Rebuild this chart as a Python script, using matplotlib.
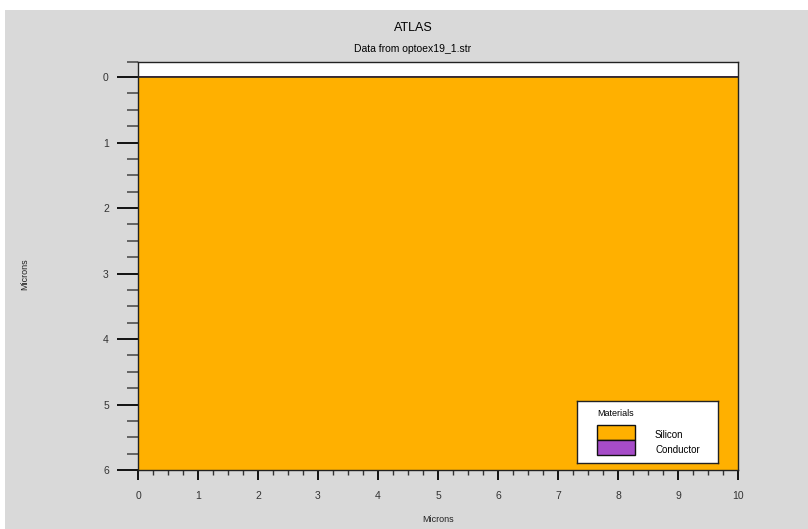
import matplotlib.pyplot as plt
from matplotlib.patches import Rectangle
from matplotlib.ticker import FixedLocator

plt.rcParams['font.family'] = ['Liberation Sans', 'DejaVu Sans']

# structure regions: name, x range, y range (microns)
materials = ['Silicon', 'Conductor']
mat_colors = ['#FFB000', '#A64CC8']
region_x = [(0, 10), (0, 10)]
region_y = [(0, 6), (-0.012, 0)]

x_ticks = [0, 1, 2, 3, 4, 5, 6, 7, 8, 9, 10]
y_ticks = [0, 1, 2, 3, 4, 5, 6]
y_top = -0.23

W, H = 808, 529
fig = plt.figure(figsize=(W / 100, H / 100), dpi=100, facecolor='white')

# grey panel behind everything
fig.patches.append(Rectangle((5 / W, 0), 1 - 5 / W, 1 - 10 / H,
                             transform=fig.transFigure, facecolor='#D9D9D9',
                             edgecolor='none', zorder=-5))

def px_box(x0, y0, x1, y1):
    return [x0 / W, 1 - y1 / H, (x1 - x0) / W, (y1 - y0) / H]

ax = fig.add_axes(px_box(138, 62, 738, 470))
ax.set_facecolor('white')
for name, c, (xa, xb), (ya, yb) in zip(materials, mat_colors, region_x, region_y):
    ax.add_patch(Rectangle((xa, ya), xb - xa, yb - ya, facecolor=c,
                           edgecolor='none', zorder=1))
ax.axhline(0, color='#222222', lw=1.2, zorder=2)

ax.set_xlim(0, 10)
ax.set_ylim(6, y_top)
ax.set_xticks(x_ticks)
ax.set_yticks(y_ticks)
x_minor = [t + f for t in x_ticks[:-1] for f in (0.25, 0.5, 0.75)]
y_minor = [y_top] + [t + f for t in y_ticks[:-1] for f in (0.25, 0.5, 0.75)]
ax.xaxis.set_minor_locator(FixedLocator(x_minor))
ax.yaxis.set_minor_locator(FixedLocator(y_minor))
ax.tick_params(axis='y', which='major', length=15, width=1.4, pad=6,
               labelsize=7.5, colors='#111111', labelcolor='#333333')
ax.tick_params(axis='y', which='minor', length=8, width=1.1, color='#444444')
ax.tick_params(axis='x', which='major', length=7, width=1.4, pad=8,
               labelsize=7.5, colors='#111111', labelcolor='#333333')
ax.tick_params(axis='x', which='minor', length=3.5, width=1.0, color='#333333')
for sp in ax.spines.values():
    sp.set_linewidth(1.0)
    sp.set_color('#222222')

fig.text(413 / W, 1 - 28 / H, 'ATLAS', ha='center', va='center', fontsize=9)
fig.text(413 / W, 1 - 49 / H, 'Data from optoex19_1.str', ha='center',
         va='center', fontsize=7.5)
fig.text(25 / W, 1 - 274 / H, 'Microns', rotation=90, ha='center',
         va='center', fontsize=6.5, color='#222222')
fig.text(438 / W, 1 - 520 / H, 'Microns', ha='center', va='center',
         fontsize=6.5, color='#222222')

# legend box drawn by hand
lg = fig.add_axes(px_box(577, 401, 718, 463))
lg.set_xlim(577, 718)
lg.set_ylim(463, 401)
lg.set_xticks([])
lg.set_yticks([])
for sp in lg.spines.values():
    sp.set_linewidth(1.0)
    sp.set_color('#222222')
lg.text(597, 414, 'Materials', ha='left', va='center', fontsize=6.5)
for i, (name, c) in enumerate(zip(materials, mat_colors)):
    top = 425 + i * 15
    lg.add_patch(Rectangle((597, top), 38, 15, facecolor=c,
                           edgecolor='#111111', lw=1.0))
    lg.text(655, top + 10, name, ha='left', va='center', fontsize=7)

fig.savefig('out.png', dpi=100)
